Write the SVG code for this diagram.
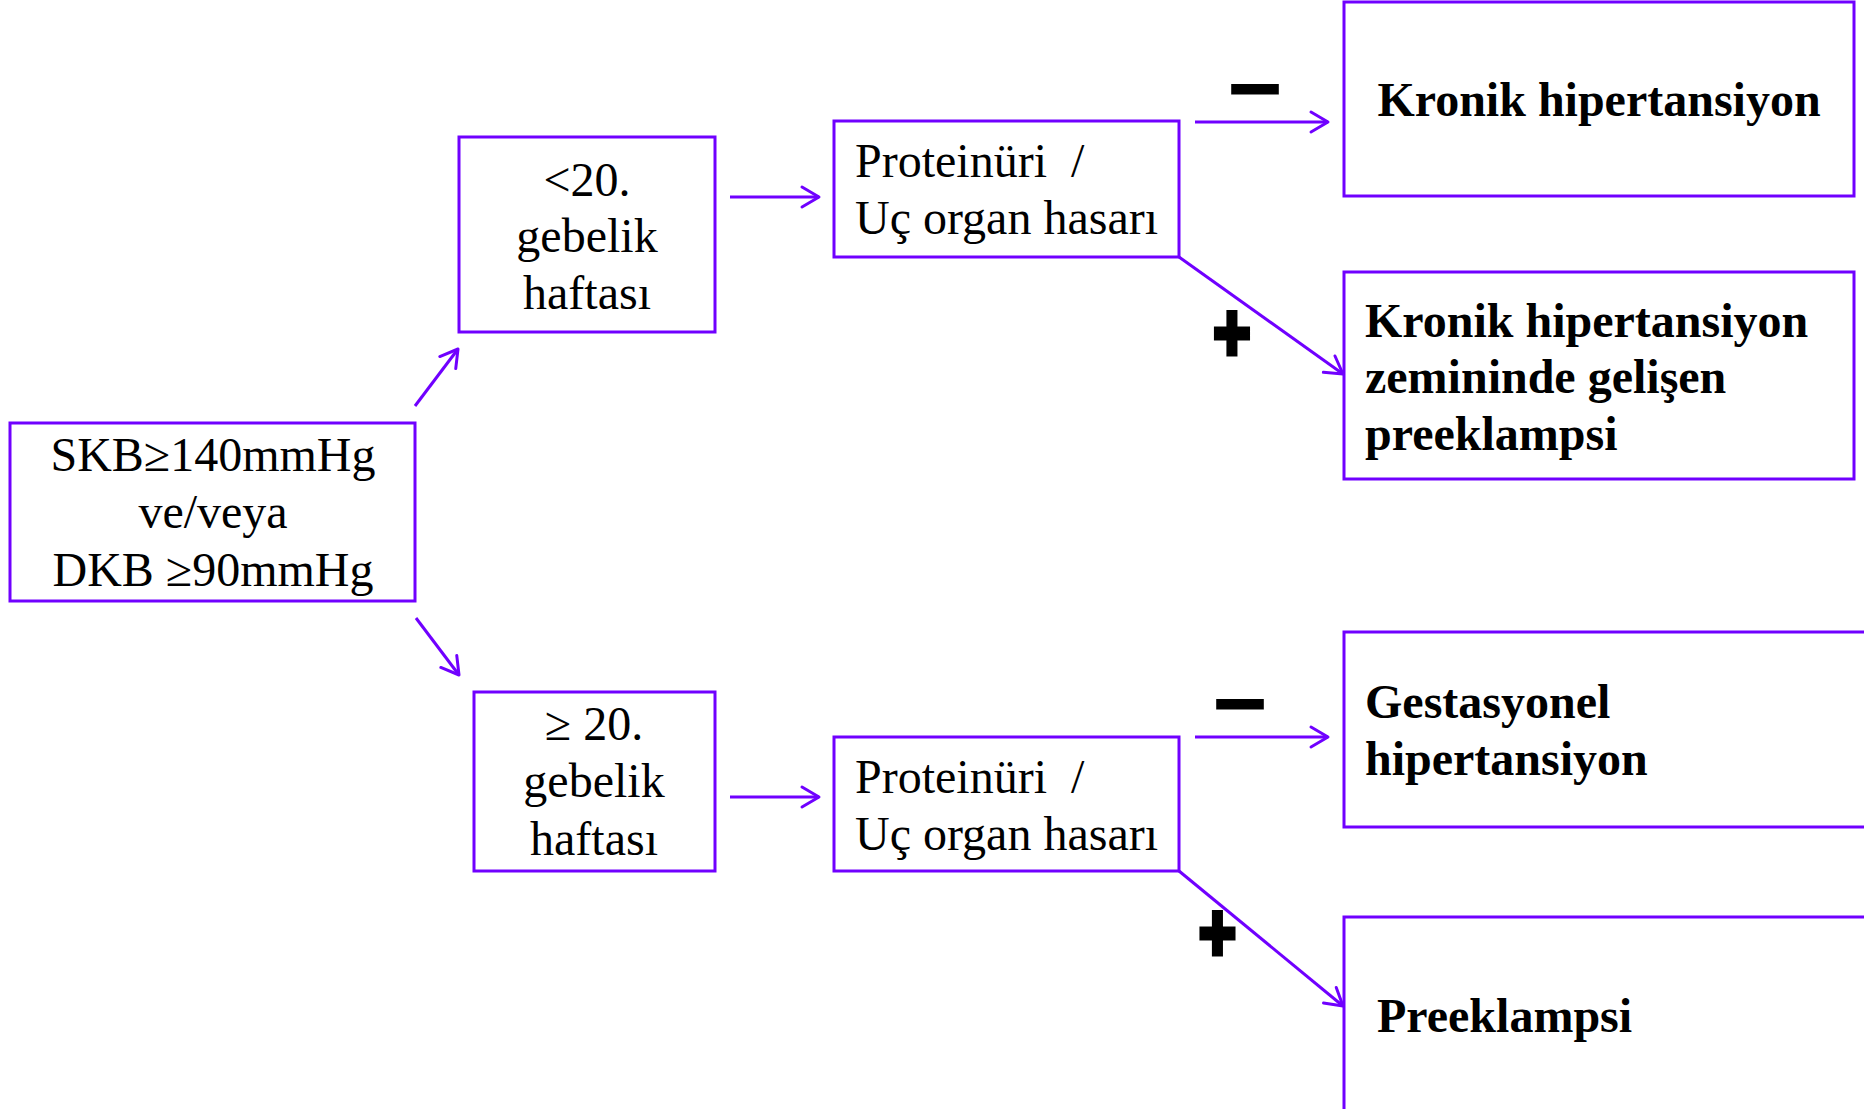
<svg xmlns="http://www.w3.org/2000/svg" width="1864" height="1109" viewBox="0 0 1864 1109">
<style>
.box{fill:#fff;stroke:#7000FF;stroke-width:3}
.t{font-family:"Liberation Serif","Times New Roman",serif;font-size:48px;fill:#000}
.b{font-weight:bold}
.c{text-anchor:middle}
.ln{stroke:#7000FF;stroke-width:3;fill:none;marker-end:url(#ah)}
.sg{font-family:"Liberation Sans",Arial,sans-serif;font-weight:bold;fill:#000;stroke:#000;text-anchor:middle}
</style>
<defs>
<marker id="ah" markerUnits="userSpaceOnUse" viewBox="-22 -14 26 28" refX="0" refY="0" markerWidth="26" markerHeight="28" orient="auto">
<path d="M-17,-10 L0,0 L-17,10" fill="none" stroke="#7000FF" stroke-width="3" stroke-linecap="round" stroke-linejoin="round"/>
</marker>
</defs>
<rect width="1864" height="1109" fill="#fff"/>
<g id="connectors">
<line class="ln" x1="415" y1="406" x2="458" y2="349"/>
<line class="ln" x1="416" y1="618" x2="459" y2="675"/>
<line class="ln" x1="730" y1="197" x2="819" y2="197"/>
<line class="ln" x1="730" y1="797" x2="819" y2="797"/>
<line class="ln" x1="1195" y1="122" x2="1328" y2="122"/>
<line class="ln" x1="1195" y1="737" x2="1328" y2="737"/>
<line class="ln" x1="1179" y1="257" x2="1343" y2="374"/>
<line class="ln" x1="1179" y1="871" x2="1343" y2="1006"/>
</g>
<g id="signs">
<text class="sg" x="1255" y="121" font-size="95" stroke-width="0">−</text>
<text class="sg" x="1240" y="736" font-size="95" stroke-width="0">−</text>
<g transform="translate(1232,331.5) scale(1,1.27)"><text class="sg" x="0" y="22.6" font-size="64" stroke-width="4">+</text></g>
<g transform="translate(1217.5,931.5) scale(1,1.27)"><text class="sg" x="0" y="22.6" font-size="64" stroke-width="4">+</text></g>
</g>
<g id="n-main">
<rect class="box" x="10" y="423" width="405" height="178"/>
<text class="t c" x="213" y="471">SKB≥140mmHg</text>
<text class="t c" x="213" y="528">ve/veya</text>
<text class="t c" x="213" y="586">DKB ≥90mmHg</text>
</g>
<g id="n-lt20">
<rect class="box" x="459" y="137" width="256" height="195"/>
<text class="t c" x="587" y="196">&lt;20.</text>
<text class="t c" x="587" y="252">gebelik</text>
<text class="t c" x="587" y="309">haftası</text>
</g>
<g id="n-ge20">
<rect class="box" x="474" y="692" width="241" height="179"/>
<text class="t c" x="594" y="740">≥ 20.</text>
<text class="t c" x="594" y="797">gebelik</text>
<text class="t c" x="594" y="855">haftası</text>
</g>
<g id="n-prot1">
<rect class="box" x="834" y="121" width="345" height="136"/>
<text class="t" x="855" y="177" xml:space="preserve">Proteinüri  /</text>
<text class="t" x="855" y="234">Uç organ hasarı</text>
</g>
<g id="n-prot2">
<rect class="box" x="834" y="737" width="345" height="134"/>
<text class="t" x="855" y="793" xml:space="preserve">Proteinüri  /</text>
<text class="t" x="855" y="850">Uç organ hasarı</text>
</g>
<g id="n-kronik">
<rect class="box" x="1344" y="2" width="510" height="194"/>
<text class="t b c" x="1599" y="116">Kronik hipertansiyon</text>
</g>
<g id="n-kronik-pre">
<rect class="box" x="1344" y="272" width="510" height="207"/>
<text class="t b" x="1365" y="337">Kronik hipertansiyon</text>
<text class="t b" x="1365" y="393">zemininde gelişen</text>
<text class="t b" x="1365" y="450">preeklampsi</text>
</g>
<g id="n-gest">
<rect class="box" x="1344" y="632" width="530" height="195"/>
<text class="t b" x="1365" y="718">Gestasyonel</text>
<text class="t b" x="1365" y="775">hipertansiyon</text>
</g>
<g id="n-pre">
<rect class="box" x="1344" y="917" width="530" height="200"/>
<text class="t b" x="1377" y="1032">Preeklampsi</text>
</g>
</svg>
